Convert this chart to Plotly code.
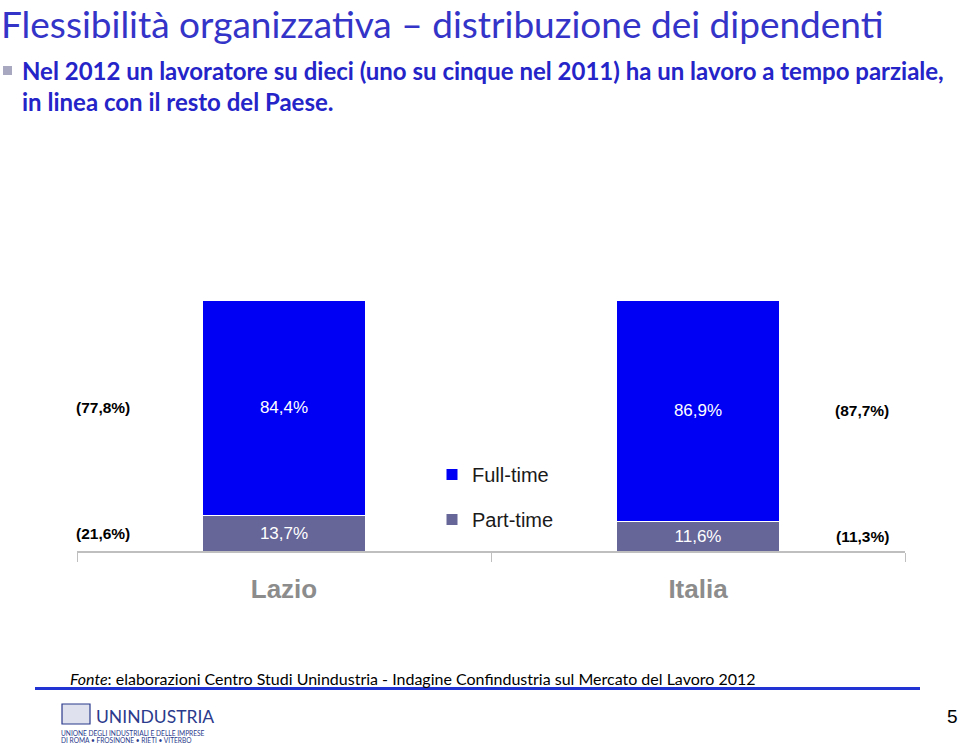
import plotly.graph_objects as go

# ---- data ----
regions = ["Lazio", "Italia"]
fulltime_2012 = [84.4, 86.9]
parttime_2012 = [13.7, 11.6]
fulltime_2011 = [77.8, 87.7]
parttime_2011 = [21.6, 11.3]

title_text = "Flessibilità organizzativa – distribuzione dei dipendenti"
subtitle_1 = "Nel 2012 un lavoratore su dieci (uno su cinque nel 2011) ha un lavoro a tempo parziale,"
subtitle_2 = "in linea con il resto del Paese."
source_text = "<i>Fonte</i>: elaborazioni Centro Studi Unindustria - Indagine Confindustria sul Mercato del Lavoro 2012"

# ---- layout geometry (pixels) ----
W, H = 960, 745
PL, PR, PT, PB = 77, 905, 300, 551


def px(x):
    return (x - PL) / (PR - PL)


def py(y):
    return (PB - y) / (PB - PT)


def fmt(v):
    return f"{v:.1f}%".replace(".", ",")


FULL_COL = "#0000F5"
PART_COL = "#666699"

fig = go.Figure()
fig.add_trace(go.Bar(
    x=regions, y=parttime_2012, name="Part-time", legendgroup="pt", legendrank=2,
    marker=dict(color=PART_COL, line=dict(color="white", width=1)),
    text=[fmt(v) for v in parttime_2012], textposition="inside",
    insidetextanchor="middle", textangle=0,
    textfont=dict(family="Liberation Sans, Arial", size=17, color="white"),
))
fig.add_trace(go.Bar(
    x=regions, y=fulltime_2012, name="Full-time", legendgroup="ft", legendrank=1,
    marker=dict(color=FULL_COL, line=dict(color="white", width=1)),
    text=[fmt(v) for v in fulltime_2012], textposition="inside",
    insidetextanchor="middle", textangle=0,
    textfont=dict(family="Liberation Sans, Arial", size=17, color="white"),
))

annotations = []
side_font = dict(family="Liberation Sans, Arial", size=15.5, color="black", weight="bold")
side_x = [px(103), px(862)]
for i in range(len(regions)):
    tot = fulltime_2012[i] + parttime_2012[i]
    p_part = parttime_2012[i] / tot * 100
    p_full = fulltime_2012[i] / tot * 100
    y_part = p_part / 2
    y_full = p_part + p_full / 2
    annotations.append(dict(x=side_x[i], y=y_full, xref="paper", yref="y",
                            xanchor="center", yanchor="middle",
                            text="(" + fmt(fulltime_2011[i]) + ")", showarrow=False, font=side_font))
    annotations.append(dict(x=side_x[i], y=y_part, xref="paper", yref="y",
                            xanchor="center", yanchor="middle",
                            text="(" + fmt(parttime_2011[i]) + ")", showarrow=False, font=side_font))

# titles
annotations.append(dict(x=px(0), y=py(0), xref="paper", yref="paper", xanchor="left", yanchor="top",
                        text=title_text, showarrow=False, borderpad=0,
                        font=dict(family="Lato, sans-serif", size=37, color="#3434C8")))
annotations.append(dict(x=px(20), y=py(71), xref="paper", yref="paper", xanchor="left", yanchor="middle",
                        text=subtitle_1, showarrow=False,
                        font=dict(family="Lato, sans-serif", size=24, color="#2424C8", weight="bold")))
annotations.append(dict(x=px(20), y=py(101), xref="paper", yref="paper", xanchor="left", yanchor="middle",
                        text=subtitle_2, showarrow=False,
                        font=dict(family="Lato, sans-serif", size=24, color="#2424C8", weight="bold")))
# footer
annotations.append(dict(x=px(68), y=py(678), xref="paper", yref="paper", xanchor="left", yanchor="middle",
                        text=source_text, showarrow=False,
                        font=dict(family="Lato, sans-serif", size=16, color="black")))
annotations.append(dict(x=px(95), y=py(716), xref="paper", yref="paper", xanchor="left", yanchor="middle",
                        text="UNINDUSTRIA", showarrow=False, borderpad=0,
                        font=dict(family="Lato, sans-serif", size=17.5, color="#2B3A8C")))
annotations.append(dict(x=px(60), y=py(732.5), xref="paper", yref="paper", xanchor="left", yanchor="middle",
                        text="UNIONE DEGLI INDUSTRIALI E DELLE IMPRESE", showarrow=False, borderpad=0,
                        font=dict(family="Lato, sans-serif", size=6.6, color="#2B3A8C")))
annotations.append(dict(x=px(60), y=py(740), xref="paper", yref="paper", xanchor="left", yanchor="middle",
                        text="DI ROMA • FROSINONE • RIETI • VITERBO", showarrow=False, borderpad=0,
                        font=dict(family="Lato, sans-serif", size=6.6, color="#2B3A8C")))
annotations.append(dict(x=px(952), y=py(716), xref="paper", yref="paper", xanchor="center", yanchor="middle",
                        text="5", showarrow=False,
                        font=dict(family="Liberation Sans, Arial", size=19, color="black")))

shapes = [
    # bullet
    dict(type="rect", xref="paper", yref="paper", x0=px(3), x1=px(12), y0=py(75), y1=py(66),
         fillcolor="#A8A8C0", line=dict(width=0)),
    # footer blue rule
    dict(type="line", xref="paper", yref="paper", x0=px(35), x1=px(920), y0=py(688.5), y1=py(688.5),
         line=dict(color="#2233D4", width=3)),
    # logo mark
    dict(type="rect", xref="paper", yref="paper", x0=px(62), x1=px(90), y0=py(724), y1=py(704),
         fillcolor="rgba(43,58,140,0.15)", line=dict(color="#2B3A8C", width=1.2)),
]

fig.update_layout(
    width=W, height=H, autosize=False,
    margin=dict(l=PL, r=W - PR, t=PT, b=H - PB, pad=0),
    paper_bgcolor="white", plot_bgcolor="white",
    barmode="stack", barnorm="percent", bargap=0.604,
    showlegend=True,
    legend=dict(x=px(432), y=py(455), xanchor="left", yanchor="top",
                traceorder="grouped", tracegroupgap=16,
                font=dict(family="Liberation Sans, Arial", size=20, color="#1a1a1a"),
                bgcolor="rgba(0,0,0,0)", itemwidth=30),
    xaxis=dict(showline=True, linecolor="#BFBFBF", linewidth=1.5,
               ticks="outside", tickson="boundaries", ticklen=9, tickcolor="#BFBFBF",
               tickfont=dict(family="Liberation Sans, Arial", size=26, color="#8C8C8C", weight="bold"),
               ticklabelstandoff=14, showgrid=False, zeroline=False, fixedrange=True),
    yaxis=dict(range=[0, 100], visible=False, showgrid=False, zeroline=False, fixedrange=True),
    annotations=annotations, shapes=shapes,
    font=dict(family="Liberation Sans, Arial"),
)

fig.write_html("out.html",
               config={"displayModeBar": False},
               post_script="document.body.style.margin='0';document.body.style.padding='0';"
                           "document.documentElement.style.overflow='hidden';")
